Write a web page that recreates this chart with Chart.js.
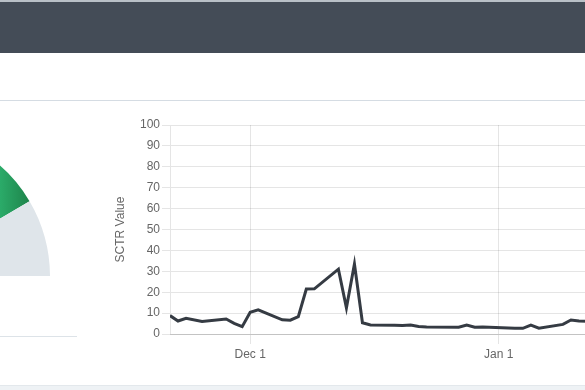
<!DOCTYPE html>
<html><head><meta charset="utf-8">
<script src="https://cdn.jsdelivr.net/npm/chart.js@4/dist/chart.umd.min.js"></script>
<style>
html,body{margin:0;padding:0;width:585px;height:390px;overflow:hidden;background:#fff;font-family:"Liberation Sans",Arial,sans-serif;}
#topline{position:absolute;left:0;top:0;width:585px;height:2px;background:#b9c0c7;}
#header{position:absolute;left:0;top:2px;width:585px;height:51px;background:#444c57;}
#sep{position:absolute;left:0;top:100px;width:585px;height:1px;background:#d5dce3;}
#gline{position:absolute;left:0;top:336px;width:77px;height:1px;background:#dde3e8;}
#foot{position:absolute;left:0;top:385px;width:585px;height:5px;background:#eef2f5;border-top:1px solid #e3e8ec;}
#gaugeWrap{position:absolute;left:-244px;top:129px;width:294px;height:147px;}
#lineWrap{position:absolute;left:109px;top:110px;width:479px;height:260px;}
</style></head>
<body>
<div id="topline"></div><div id="header"></div><div id="sep"></div>
<div id="gaugeWrap"><canvas id="gauge"></canvas></div>
<div id="gline"></div>
<div id="lineWrap"><canvas id="line"></canvas></div>
<div id="foot"></div>
<script>
const tradeDates = ['2022-11-21','2022-11-22','2022-11-23','2022-11-25','2022-11-28','2022-11-29','2022-11-30',
  '2022-12-01','2022-12-02','2022-12-05','2022-12-06','2022-12-07','2022-12-08','2022-12-09',
  '2022-12-12','2022-12-13','2022-12-14','2022-12-15','2022-12-16','2022-12-19','2022-12-20',
  '2022-12-21','2022-12-22','2022-12-23','2022-12-27','2022-12-28','2022-12-29','2022-12-30',
  '2023-01-03','2023-01-04','2023-01-05','2023-01-06','2023-01-09','2023-01-10','2023-01-11','2023-01-12'];
const sctrValues = [8.8,6.2,7.5,6.0,7.2,5.1,3.5,
  10.4,11.6,6.8,6.6,8.3,21.5,21.6,
  31.0,12.5,33.5,5.4,4.3,4.2,4.1,
  4.3,3.6,3.4,3.2,4.3,3.2,3.3,
  2.8,2.7,4.3,2.8,4.6,6.7,6.2,6.1];
const xTickDates = ['2022-12-01','2023-01-01'];
const xTickLabels = ['Dec 1','Jan 1'];
const xRangeDates = ['2022-11-21','2023-01-12'];
const yTitle = 'SCTR Value';
const gaugeValues = [83, 17];

const origin = Date.UTC(2022, 11, 1);
function dayOf(s){ const p = s.split('-').map(Number); return (Date.UTC(p[0], p[1]-1, p[2]) - origin) / 86400000; }

const grid = 'rgba(0,0,0,0.1)';
const txt = '#666';
const font = {family: '"Liberation Sans", Arial, sans-serif', size: 12};

new Chart(document.getElementById('line'), {
  type: 'line',
  data: { datasets: [{
    data: tradeDates.map((d, i) => ({x: dayOf(d), y: sctrValues[i]})),
    borderColor: '#353b43', borderWidth: 3, pointRadius: 0, tension: 0, fill: false
  }]},
  options: {
    responsive: true, maintainAspectRatio: false, animation: false, events: [],
    layout: {padding: {top: 15, right: 1, left: 0, bottom: 0}},
    plugins: {legend: {display: false}, tooltip: {enabled: false}},
    scales: {
      x: {
        type: 'linear', min: dayOf(xRangeDates[0]), max: dayOf(xRangeDates[1]),
        afterBuildTicks: s => { s.ticks = xTickDates.map(d => ({value: dayOf(d)})); },
        afterFit: s => { s.height = 36; },
        ticks: {autoSkip: false, maxRotation: 0, color: txt, font: font, padding: 3,
          callback: v => { const i = xTickDates.findIndex(d => dayOf(d) === v); return i >= 0 ? xTickLabels[i] : ''; }},
        grid: {color: grid, tickLength: 10},
        border: {color: 'rgba(0,0,0,0.15)'}
      },
      y: {
        min: 0, max: 100,
        afterFit: s => { s.width = 61; },
        ticks: {stepSize: 10, color: txt, font: font, padding: 2},
        grid: {color: grid, tickLength: 8},
        border: {color: grid},
        title: {display: true, text: yTitle, color: txt, font: font}
      }
    }
  }
});

new Chart(document.getElementById('gauge'), {
  type: 'doughnut',
  data: { datasets: [{
    data: gaugeValues,
    backgroundColor: ctx => {
      if (ctx.dataIndex === 1) return '#dfe5ea';
      const c = ctx.chart.ctx;
      const g = c.createLinearGradient(244, 0, 280, 0);
      g.addColorStop(0, '#2bab69');
      g.addColorStop(1, '#1b7b44');
      return g;
    },
    borderWidth: 0
  }]},
  options: {
    responsive: true, maintainAspectRatio: false, animation: false, events: [],
    rotation: -90, circumference: 180, cutout: '50%',
    layout: {padding: 0},
    plugins: {legend: {display: false}, tooltip: {enabled: false}}
  }
});
</script>
</body></html>
